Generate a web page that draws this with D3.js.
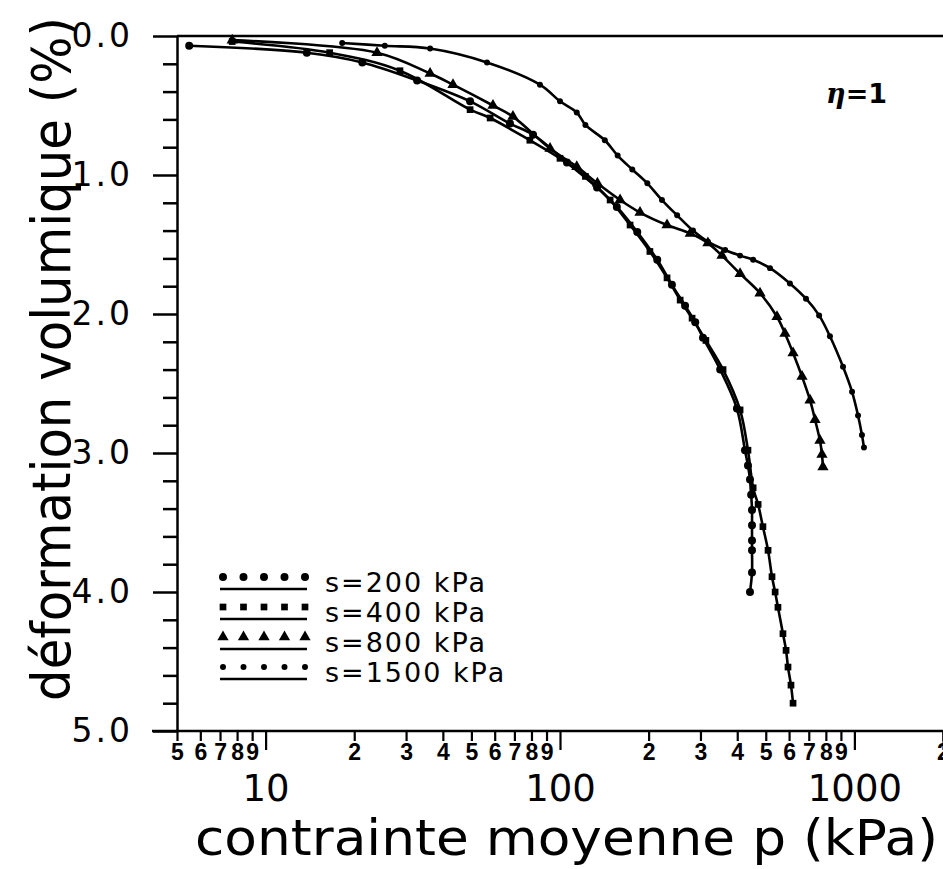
<!DOCTYPE html>
<html lang="fr">
<head>
<meta charset="utf-8">
<title>deformation volumique</title>
<script src="https://d3js.org/d3.v7.min.js"></script>
<style>
body { margin: 0; background: #fff; }
svg text { font-family: "DejaVu Sans", sans-serif; fill: #000; }
.minor text { font-family: "Liberation Sans", sans-serif; font-weight: bold; font-size: 23px; }
</style>
</head>
<body>
<script>
// mean stress p (kPa) and volumic strain (%), one pair of arrays per suction
var p200 = [5.5, 13.8, 21.3, 32.7, 49.5, 67.6, 81, 105.6, 133.6, 156, 183, 214, 240, 266, 288, 306, 350, 399, 425, 435, 442, 446, 449, 449, 449, 449, 449, 442];
var e200 = [0.07, 0.12, 0.19, 0.32, 0.47, 0.63, 0.71, 0.91, 1.09, 1.23, 1.41, 1.61, 1.79, 1.94, 2.06, 2.17, 2.40, 2.68, 2.98, 3.09, 3.19, 3.30, 3.41, 3.52, 3.63, 3.70, 3.86, 4.00];

var p400 = [7.7, 16.5, 28.6, 49.5, 57.9, 79, 100, 122, 148, 173, 202, 231, 256, 281, 313, 358, 409, 435, 453, 471, 489, 509, 525, 538, 550, 572, 586, 595, 609, 619];
var e400 = [0.04, 0.12, 0.25, 0.53, 0.59, 0.75, 0.88, 1.01, 1.18, 1.36, 1.55, 1.74, 1.90, 2.03, 2.19, 2.40, 2.69, 2.98, 3.25, 3.37, 3.53, 3.70, 3.89, 4.00, 4.11, 4.30, 4.42, 4.54, 4.67, 4.80];

var p800 = [7.7, 23.9, 36.2, 43.3, 59.2, 69.2, 92.5, 114, 134, 160, 187, 231, 277, 318, 355, 409, 478, 546, 581, 619, 664, 707, 735, 764, 776, 782];
var e800 = [0.03, 0.12, 0.27, 0.35, 0.50, 0.58, 0.81, 0.94, 1.06, 1.18, 1.27, 1.36, 1.42, 1.49, 1.58, 1.71, 1.85, 2.02, 2.14, 2.28, 2.45, 2.62, 2.76, 2.91, 3.01, 3.10];

var p1500 = [18.2, 25.4, 36.2, 56.5, 85.5, 100, 114, 122, 142, 157, 176, 198, 222, 250, 283, 318, 364, 409, 453, 517, 604, 685, 759, 826, 915, 982, 1029, 1061, 1078];
var e1500 = [0.05, 0.07, 0.09, 0.19, 0.35, 0.47, 0.55, 0.64, 0.75, 0.86, 0.96, 1.06, 1.18, 1.29, 1.40, 1.48, 1.54, 1.58, 1.61, 1.67, 1.78, 1.89, 2.01, 2.16, 2.38, 2.56, 2.73, 2.87, 2.96];

var seriesNames = ["s=200  kPa", "s=400  kPa", "s=800  kPa", "s=1500  kPa"];
var seriesSymbols = [d3.symbolCircle, d3.symbolSquare, d3.symbolTriangle, d3.symbolCircle];
var symbolSizes = [50, 45, 55, 28];

var yMajor = [0, 1, 2, 3, 4, 5];
var yMinor = [0.2, 0.4, 0.6, 0.8, 1.2, 1.4, 1.6, 1.8, 2.2, 2.4, 2.6, 2.8, 3.2, 3.4, 3.6, 3.8, 4.2, 4.4, 4.6, 4.8];
var xDecades = [10, 100, 1000];
var xMinor = [5, 6, 7, 8, 9, 20, 30, 40, 50, 60, 70, 80, 90, 200, 300, 400, 500, 600, 700, 800, 900, 2000];

var width = 943, height = 869;

var x = d3.scaleLog().domain([5, 2000]).range([177, 943]);
var y = d3.scaleLinear().domain([0, 5]).range([36, 731]);

var svg = d3.select("body").append("svg")
    .attr("width", width)
    .attr("height", height);

// top border
svg.append("line")
    .attr("x1", x(5)).attr("x2", x(2000))
    .attr("y1", y(0)).attr("y2", y(0))
    .attr("stroke", "#000").attr("stroke-width", 2.5);

// y axis, major ticks with labels
var yAxis = svg.append("g")
    .attr("transform", "translate(" + x(5) + ",0)")
    .call(d3.axisLeft(y).tickValues(yMajor).tickSize(24).tickSizeOuter(0).tickPadding(20)
        .tickFormat(d3.format(".1f")));
yAxis.select(".domain").attr("stroke-width", 2.5);
yAxis.selectAll(".tick line").attr("stroke-width", 2.5);
yAxis.selectAll(".tick text")
    .attr("font-size", 33)
    .attr("letter-spacing", 3)
    .attr("font-family", "DejaVu Sans");

svg.append("g")
    .attr("transform", "translate(" + x(5) + ",0)")
    .call(d3.axisLeft(y).tickValues(yMinor).tickSize(14).tickFormat(""))
    .call(function (g) { g.select(".domain").remove(); })
    .selectAll(".tick line").attr("stroke-width", 2.5);

// x axis, decades
var xAxis = svg.append("g")
    .attr("transform", "translate(0," + y(5) + ")")
    .call(d3.axisBottom(x).tickValues(xDecades.concat([2000])).tickSize(19).tickSizeOuter(0)
        .tickFormat(function (d) { return d === 2000 ? "" : d; }).tickPadding(25));
xAxis.select(".domain").attr("stroke-width", 2.5).attr("d", "M152,0H943");
xAxis.selectAll(".tick line").attr("stroke-width", 2.2);
xAxis.selectAll(".tick text")
    .attr("font-size", 37)
    .attr("font-family", "DejaVu Sans");

// x axis, minor ticks with the leading digit in bold
svg.append("g")
    .attr("class", "minor")
    .attr("transform", "translate(0," + y(5) + ")")
    .call(d3.axisBottom(x).tickValues(xMinor).tickSize(10).tickPadding(3)
        .tickFormat(function (d) { return String(d)[0]; }))
    .call(function (g) { g.select(".domain").remove(); })
    .selectAll(".tick line").attr("stroke-width", 2.2);

// curves and points
var line = d3.line()
    .x(function (d) { return x(d[0]); })
    .y(function (d) { return y(d[1]); })
    .curve(d3.curveCatmullRom.alpha(0.5));

var series = [
    d3.zip(p200, e200),
    d3.zip(p400, e400),
    d3.zip(p800, e800),
    d3.zip(p1500, e1500)
];

series.forEach(function (pts, i) {
    svg.append("path")
        .datum(pts)
        .attr("fill", "none")
        .attr("stroke", "#000")
        .attr("stroke-width", 2.6)
        .attr("d", line);

    svg.selectAll(".pt" + i)
        .data(pts)
        .enter().append("path")
        .attr("class", "pt" + i)
        .attr("transform", function (d) { return "translate(" + x(d[0]) + "," + y(d[1]) + ")"; })
        .attr("d", d3.symbol().type(seriesSymbols[i]).size(symbolSizes[i]));
});

// legend
var legend = svg.append("g").attr("transform", "translate(220,577)");
var row = legend.selectAll("g")
    .data(seriesNames)
    .enter().append("g")
    .attr("transform", function (d, i) { return "translate(0," + i * 30 + ")"; });

row.each(function (d, i) {
    var g = d3.select(this);
    g.selectAll("path")
        .data([0, 1, 2, 3, 4])
        .enter().append("path")
        .attr("transform", function (k) { return "translate(" + (3 + k * 20.5) + ",0)"; })
        .attr("d", d3.symbol().type(seriesSymbols[i]).size(symbolSizes[i]));
    g.append("line")
        .attr("x1", 0).attr("x2", 87)
        .attr("y1", 12).attr("y2", 12)
        .attr("stroke", "#000").attr("stroke-width", 2.5);
    g.append("text")
        .attr("x", 105)
        .attr("y", 15)
        .attr("font-size", 27)
        .attr("letter-spacing", 2)
        .text(d);
});

// eta label
svg.append("text")
    .attr("x", 826)
    .attr("y", 103)
    .attr("font-size", 27)
    .attr("font-weight", "bold")
    .html("<tspan font-style='italic' font-family='DejaVu Serif'>\u03b7</tspan>=1");

// axis titles
svg.append("text")
    .attr("x", 195)
    .attr("y", 855)
    .attr("font-size", 49)
    .attr("textLength", 743)
    .attr("lengthAdjust", "spacingAndGlyphs")
    .text("contrainte  moyenne  p  (kPa)");

svg.append("text")
    .attr("transform", "translate(70,701) rotate(-90)")
    .attr("font-size", 54)
    .attr("textLength", 684)
    .attr("lengthAdjust", "spacingAndGlyphs")
    .text("déformation volumique (%)");
</script>
</body>
</html>
